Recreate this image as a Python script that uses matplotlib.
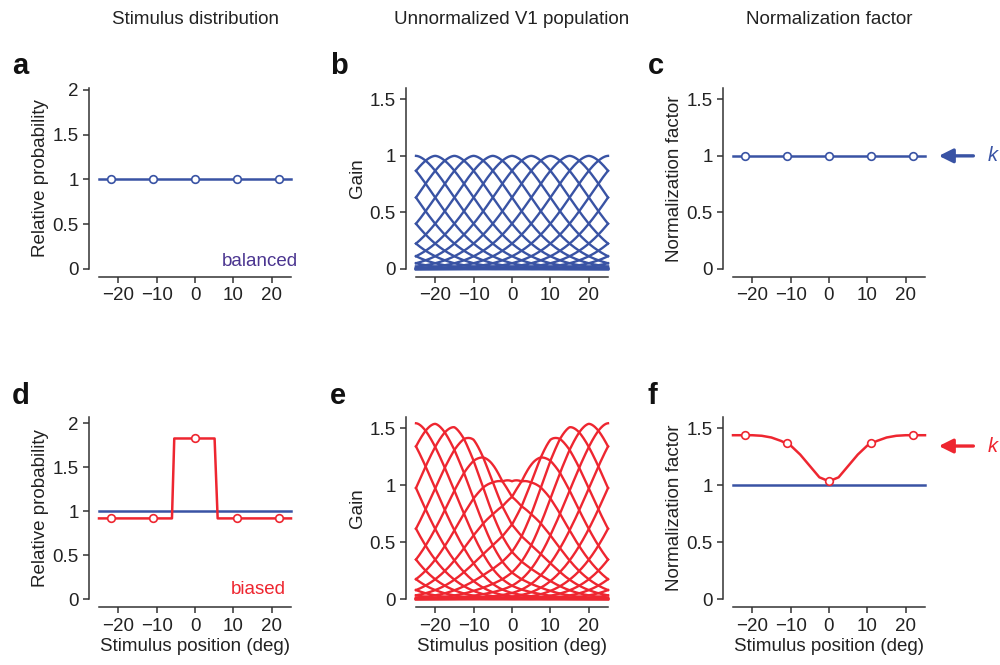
import numpy as np
import matplotlib
matplotlib.use("Agg")
import matplotlib.pyplot as plt

# --- data ---
BLUE = "#3953a4"
RED = "#ee2630"
PURPLE = "#4b3590"

marker_x = [-22, -11, 0, 11, 22]

# a: balanced stimulus distribution
bal_x = [-25, 25]
bal_y = [1.0, 1.0]
bal_marker_y = [1.0, 1.0, 1.0, 1.0, 1.0]

# d: biased stimulus distribution (step around 0)
bias_x = [-25, -6.0, -5.4, 5.1, 5.9, 25]
bias_y = [0.917, 0.917, 1.826, 1.826, 0.917, 0.917]
bias_marker_y = [0.917, 0.917, 1.826, 0.917, 0.917]

# b / e: tuning curves (preferred positions, shape parameters)
pref_pos = list(range(-60, 61, 5))
tuning_width = 15.8
tuning_exp = 1.7

# e: gain field applied to the population under the biased distribution
gain_x = [-25, -22.5, -20, -17.5, -15, -12.5, -10, -7.5, -5, -2.5, 0,
          2.5, 5, 7.5, 10, 12.5, 15, 17.5, 20, 22.5, 25]
gain_y = [1.545, 1.545, 1.54, 1.53, 1.51, 1.47, 1.40, 1.30, 1.18, 1.08, 1.035,
          1.08, 1.18, 1.30, 1.40, 1.47, 1.51, 1.53, 1.54, 1.545, 1.545]

# c / f: normalization factor
norm_x = gain_x
norm_bal = [1.0] * 21
norm_bias = [1.44, 1.44, 1.44, 1.435, 1.42, 1.39, 1.35, 1.27, 1.17, 1.07, 1.035,
             1.07, 1.17, 1.27, 1.35, 1.39, 1.42, 1.435, 1.44, 1.44, 1.44]
norm_bal_marker = [1.0, 1.0, 1.0, 1.0, 1.0]
norm_bias_marker = [1.44, 1.37, 1.035, 1.37, 1.44]
k_bal = 1.0
k_bias = 1.345

# --- style ---
plt.rcParams["font.family"] = ["Liberation Sans", "DejaVu Sans"]
plt.rcParams["font.size"] = 13.5
TXT = "#222222"

fig = plt.figure(figsize=(10, 6.65), dpi=100)

lefts = [0.099, 0.416, 0.733]
W = 0.192
rows = [(0.5955, 0.2722), (0.0992, 0.2737)]

axes = {}
names = [["a", "b", "c"], ["d", "e", "f"]]
for r, (bot, h) in enumerate(rows):
    for c, l in enumerate(lefts):
        axes[names[r][c]] = fig.add_axes([l, bot, W, h])


def style(ax, ytop, yticks, ylabel, xlabel=False):
    ax.set_xlim(-25, 25)
    ax.set_ylim(0, ytop)
    for s in ["top", "right"]:
        ax.spines[s].set_visible(False)
    ax.spines["left"].set_position(("outward", 7.2))
    ax.spines["bottom"].set_position(("outward", 5.8))
    for s in ["left", "bottom"]:
        ax.spines[s].set_color("#333333")
        ax.spines[s].set_linewidth(1.1)
    ax.set_xticks([-20, -10, 0, 10, 20])
    ax.set_yticks(yticks)
    ax.set_yticklabels([("%g" % v) for v in yticks])
    ax.tick_params(direction="out", length=4, width=1.1, color="#333333",
                   labelcolor=TXT, labelsize=13.5, pad=3.5)
    ax.set_ylabel(ylabel, color=TXT, fontsize=13.5)
    ax.yaxis.set_label_coords(-0.26, 0.5)
    if xlabel:
        ax.set_xlabel("Stimulus position (deg)", color=TXT, fontsize=13.5, labelpad=2.5)


def tuning(d):
    return np.exp(-(np.abs(d) / tuning_width) ** tuning_exp)


xs = np.linspace(-25, 25, 501)
mk = dict(marker="o", ms=5.5, mfc="white", mew=1.2, ls="none", zorder=5, clip_on=False)

# a
ax = axes["a"]
ax.plot(bal_x, bal_y, color=BLUE, lw=1.8, clip_on=False)
ax.plot(marker_x, bal_marker_y, mec=BLUE, **mk)
ax.text(26.8, 0.03, "balanced", color=PURPLE, ha="right", va="baseline", fontsize=13.5)
style(ax, 2.02, [0, 0.5, 1, 1.5, 2], "Relative probability")

# b
ax = axes["b"]
for c in pref_pos:
    ax.plot(xs, tuning(xs - c), color=BLUE, lw=1.7, clip_on=False)
style(ax, 1.6, [0, 0.5, 1, 1.5], "Gain")

# c
ax = axes["c"]
ax.plot(norm_x, norm_bal, color=BLUE, lw=1.8, clip_on=False)
ax.plot(marker_x, norm_bal_marker, mec=BLUE, **mk)
style(ax, 1.6, [0, 0.5, 1, 1.5], "Normalization factor")

# d
ax = axes["d"]
ax.plot([-25, 25], [1, 1], color=BLUE, lw=1.8, clip_on=False)
ax.plot(bias_x, bias_y, color=RED, lw=1.8, clip_on=False)
ax.plot(marker_x, bias_marker_y, mec=RED, **mk)
ax.text(23.7, 0.06, "biased", color=RED, ha="right", va="baseline", fontsize=13.5)
style(ax, 2.07, [0, 0.5, 1, 1.5, 2], "Relative probability", xlabel=True)

# e
ax = axes["e"]
g = np.interp(xs, gain_x, gain_y)
for c in pref_pos:
    ax.plot(xs, g * tuning(xs - c), color=RED, lw=1.7, clip_on=False)
style(ax, 1.6, [0, 0.5, 1, 1.5], "Gain", xlabel=True)

# f
ax = axes["f"]
ax.plot(norm_x, norm_bal, color=BLUE, lw=1.8, clip_on=False)
ax.plot(norm_x, norm_bias, color=RED, lw=1.8, clip_on=False)
ax.plot(marker_x, norm_bias_marker, mec=RED, **mk)
style(ax, 1.6, [0, 0.5, 1, 1.5], "Normalization factor", xlabel=True)

# k arrows
for key, kv, col in [("c", k_bal, BLUE), ("f", k_bias, RED)]:
    ax = axes[key]
    ax.annotate("", xy=(28.6, kv), xytext=(37.6, kv),
                arrowprops=dict(arrowstyle="-|>", color=col, lw=2.4, mutation_scale=21,
                                shrinkA=0, shrinkB=0),
                annotation_clip=False)
    ax.text(41.3, kv, "k", style="italic", color=col, ha="left", va="center",
            fontsize=14.5, clip_on=False)

# panel letters
for r, ybase in enumerate([1 - 74 / 665, 1 - 404 / 665]):
    for c, xl in enumerate([0.012, 0.330, 0.648]):
        fig.text(xl, ybase, names[r][c], fontsize=21, fontweight="bold",
                 color="#111111", va="baseline", ha="left")

# column titles
titles = ["Stimulus distribution", "Unnormalized V1 population", "Normalization factor"]
for l, t in zip(lefts, titles):
    fig.text(l + W / 2, 1 - 20 / 665, t, ha="center", va="center", color=TXT, fontsize=13.5)

fig.savefig("out.png", dpi=100)
